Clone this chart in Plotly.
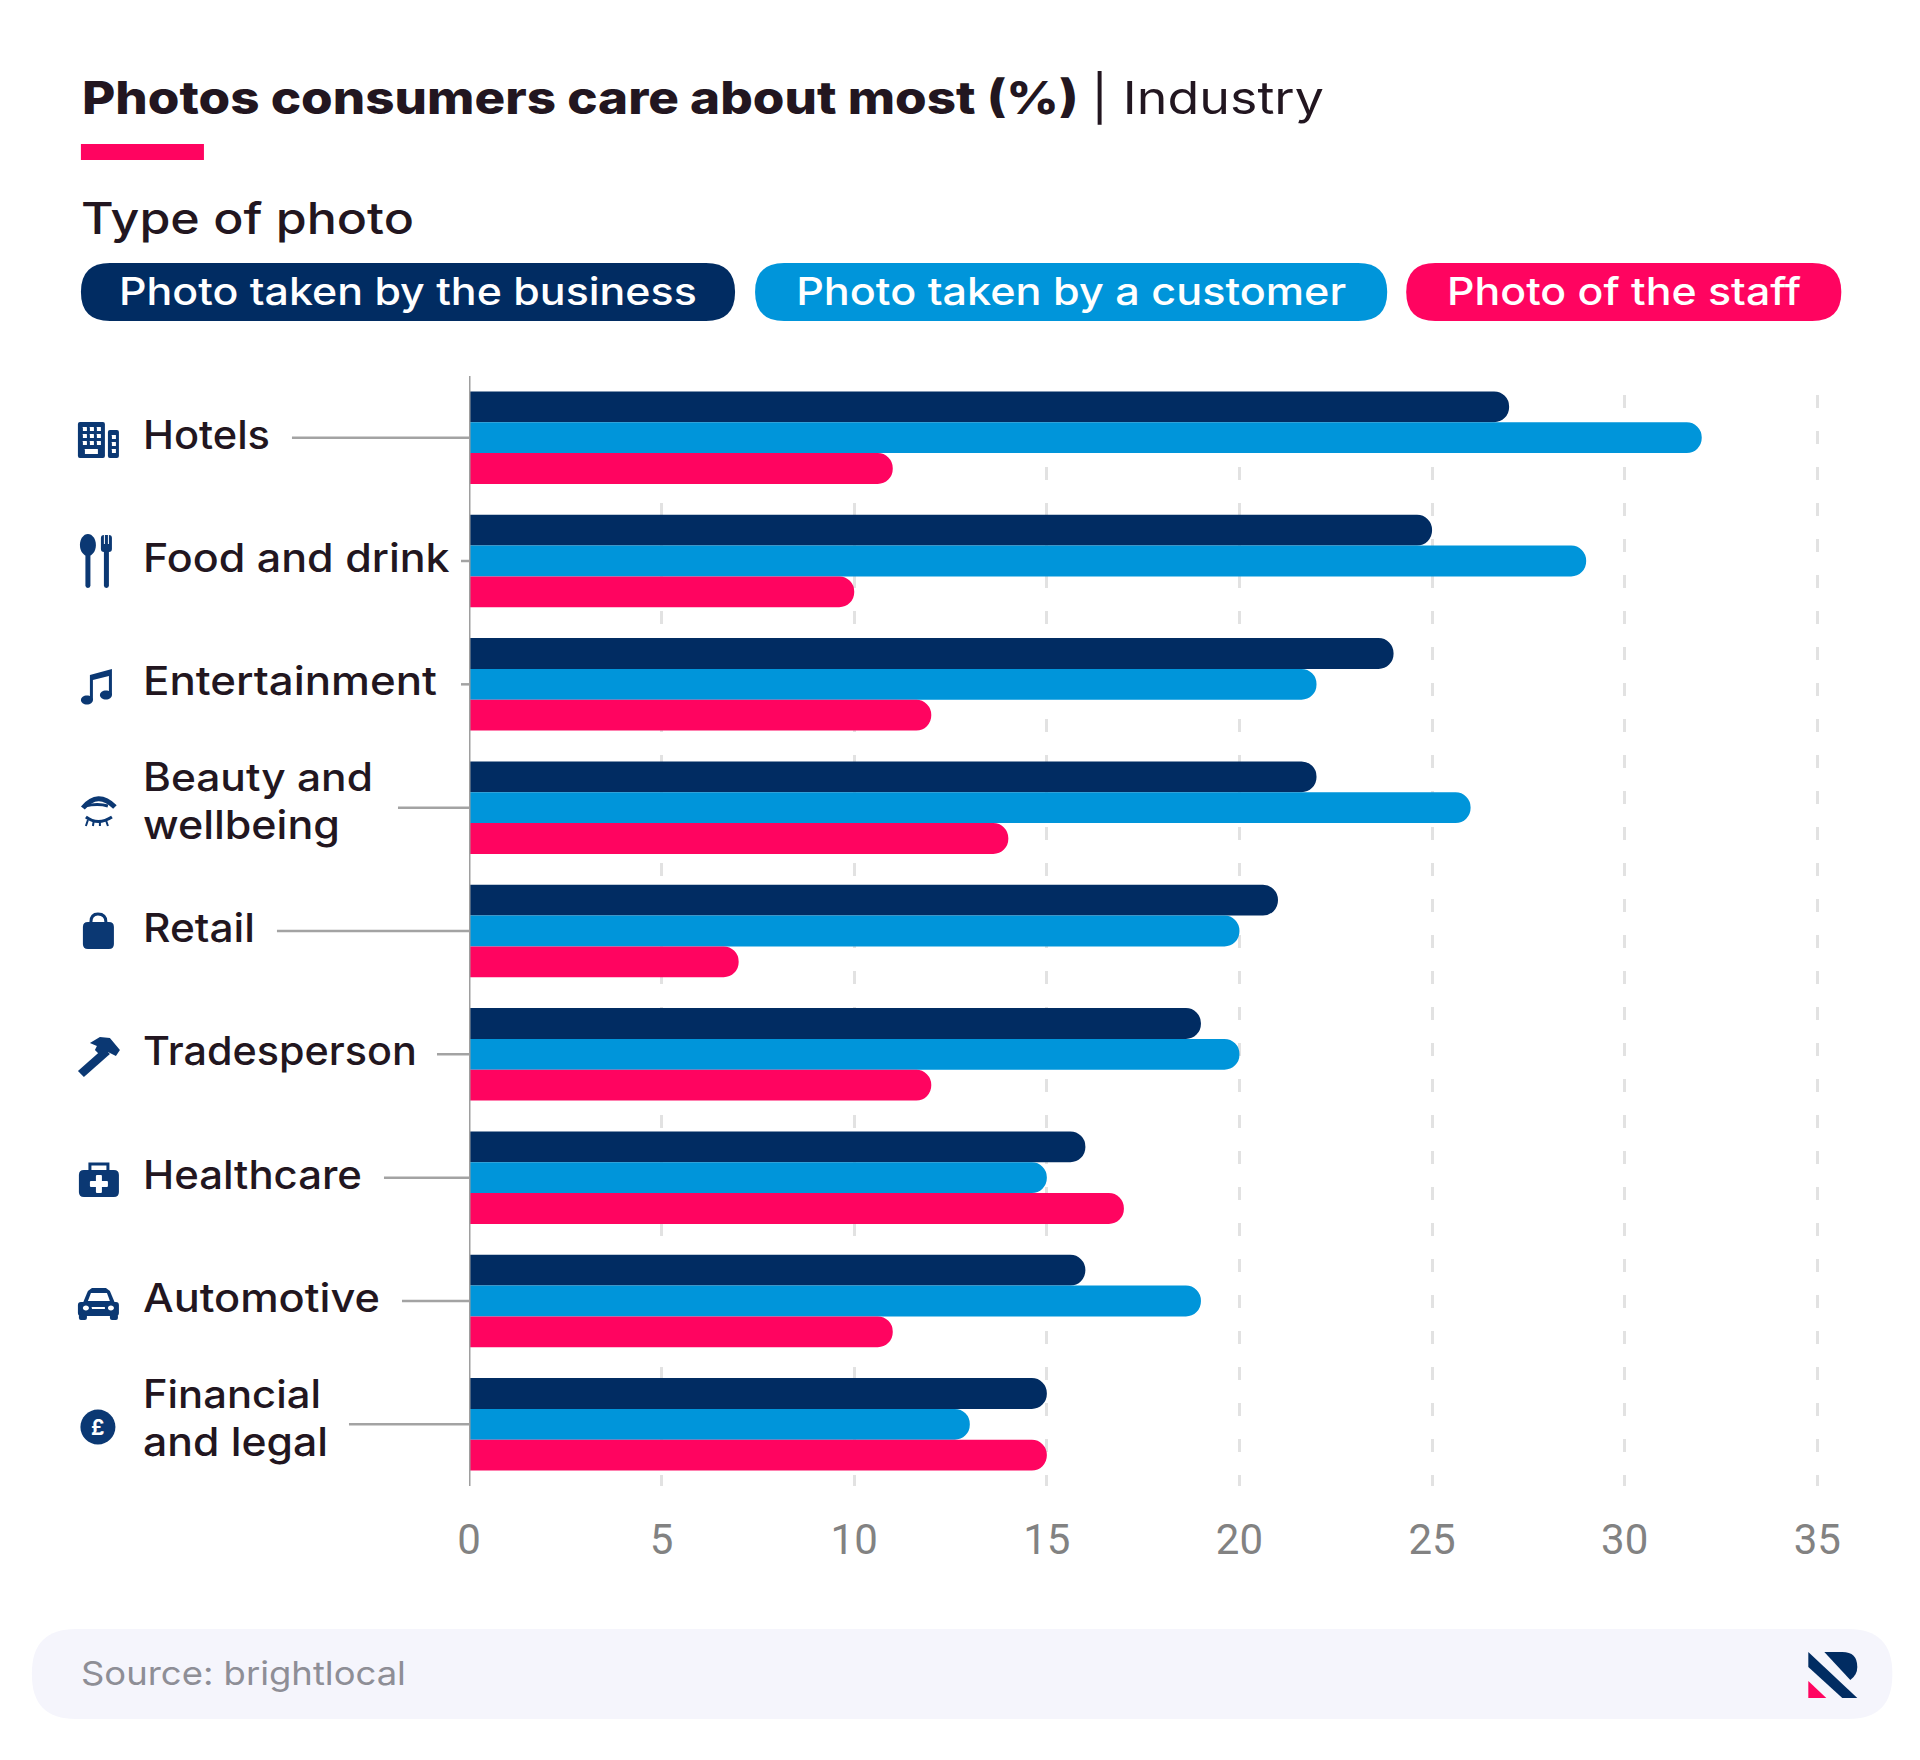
import json
import plotly.graph_objects as go

categories = ["Hotels", "Food and drink", "Entertainment", "Beauty and<br>wellbeing", "Retail",
              "Tradesperson", "Healthcare", "Automotive", "Financial<br>and legal"]
business = [27, 25, 24, 22, 21, 19, 16, 16, 15]
customer = [32, 29, 22, 26, 20, 20, 15, 19, 13]
staff = [11, 10, 12, 14, 7, 12, 17, 11, 15]
series_names = ["Photo taken by the business", "Photo taken by a customer", "Photo of the staff"]
x_ticks = [0, 5, 10, 15, 20, 25, 30, 35]

W, H = 1920, 1760
X_MAX = 35.2
L, R, T, B = 469, 469 + 38.514 * X_MAX, 376, 1486
NAVY, BLUE, PINK = "#012C62", "#0095DA", "#FF0460"
ICON = "#0B3873"
INK = "#221620"
FONT = "Inter"
WHITE = "#FFFFFF"

# Rendered widths (px) the text runs occupy in the reference
text_widths = {
    "Photos consumers care about most (%)": 997, "| Industry": 233, "Type of photo": 333,
    "Photo taken by the business": 578, "Photo taken by a customer": 550, "Photo of the staff": 354,
    "Source: brightlocal": 325, "Hotels": 127, "Food and drink": 307, "Entertainment": 294,
    "Beauty and": 230, "wellbeing": 197, "Retail": 112, "Tradesperson": 274, "Healthcare": 219,
    "Automotive": 237, "Financial": 178, "and legal": 185,
}


def px(x):
    return (x - L) / (R - L)


def py(y):
    return 1 - (y - T) / (B - T)


def pt(x, y):
    return f"{px(x):.5f},{py(y):.5f}"


def poly(pts):
    return "M" + " L".join(pt(*p) for p in pts) + " Z"


def rrect(x0, y0, x1, y1, r):
    return (f"M{pt(x0 + r, y0)} L{pt(x1 - r, y0)} Q{pt(x1, y0)} {pt(x1, y0 + r)} "
            f"L{pt(x1, y1 - r)} Q{pt(x1, y1)} {pt(x1 - r, y1)} L{pt(x0 + r, y1)} "
            f"Q{pt(x0, y1)} {pt(x0, y1 - r)} L{pt(x0, y0 + r)} Q{pt(x0, y0)} {pt(x0 + r, y0)} Z")


def ellipse(cx, cy, rx, ry):
    k = 0.5523
    return (f"M{pt(cx - rx, cy)} C{pt(cx - rx, cy - k * ry)} {pt(cx - k * rx, cy - ry)} {pt(cx, cy - ry)} "
            f"C{pt(cx + k * rx, cy - ry)} {pt(cx + rx, cy - k * ry)} {pt(cx + rx, cy)} "
            f"C{pt(cx + rx, cy + k * ry)} {pt(cx + k * rx, cy + ry)} {pt(cx, cy + ry)} "
            f"C{pt(cx - k * rx, cy + ry)} {pt(cx - rx, cy + k * ry)} {pt(cx - rx, cy)} Z")


shapes = []


def fill(path, color=ICON):
    shapes.append(dict(type="path", xref="paper", yref="paper", path=path,
                       fillcolor=color, line=dict(width=0)))


def stroke(path, color=ICON, width=3):
    shapes.append(dict(type="path", xref="paper", yref="paper", path=path,
                       fillcolor="rgba(0,0,0,0)", line=dict(color=color, width=width)))


annotations = []


def text(x, y, s, size, color=INK, weight=500, anchor="left", font=FONT):
    annotations.append(dict(xref="paper", yref="paper", x=px(x), y=py(y), text=s, showarrow=False,
                            xanchor=anchor, yanchor="middle", align=anchor,
                            font=dict(family=font, size=size, color=color, weight=weight)))


# Header
text(80, 98, "Photos consumers care about most (%)", 45, weight=800)
text(1089, 98, "| Industry", 45, weight=400)
fill(rrect(81, 144, 204, 160, 0.1), PINK)
text(79, 218, "Type of photo", 44)

# Legend pills
pills = [(81, 735, NAVY), (755, 1387, BLUE), (1406, 1841, PINK)]
for name, (x0, x1, col) in zip(series_names, pills):
    fill(rrect(x0, 263, x1, 321, 29), col)
    text((x0 + x1) / 2, 291, name, 38, WHITE, anchor="center")

# Source bar
fill(rrect(32, 1629, 1892, 1719, 44), "#F5F5FC")
text(79, 1672.5, "Source: brightlocal", 33, "#8E8E96", weight=400)

# Logo
fill(poly([(1808, 1652), (1857, 1698), (1842, 1698), (1808, 1667)]), NAVY)
fill(f"M{pt(1824, 1652)} L{pt(1842, 1652)} Q{pt(1857, 1652)} {pt(1857, 1667)} "
     f"Q{pt(1857, 1675)} {pt(1850, 1680)} Z", NAVY)
fill(poly([(1808, 1681), (1826, 1698), (1808, 1698)]), PINK)

# Category labels and leader lines
leader_start = [292, 461, 461, 398, 277, 437, 384, 402, 349]
for cat, start in zip(categories, leader_start):
    shapes.append(dict(type="line", xref="paper", yref="y", x0=px(start), x1=px(L), y0=cat, y1=cat,
                       line=dict(color="#A3A3A3", width=2.5)))
    lines = cat.split("<br>")
    offs = [-3.5] if len(lines) == 1 else [-31, 17]
    for ln, off in zip(lines, offs):
        annotations.append(dict(xref="paper", yref="y", x=px(141), y=cat, text=ln, showarrow=False,
                                xanchor="left", yanchor="middle", align="left", yshift=-off,
                                font=dict(family=FONT, size=39, color=INK, weight=500)))

# Axis line at zero, above the bar bases
shapes.append(dict(type="line", xref="x", yref="paper", x0=0, x1=0, y0=0, y1=1,
                   line=dict(color="#9E9E9E", width=3)))

# Icons
# hotels
fill(rrect(78, 422, 105, 458, 2))
fill(rrect(108, 430, 119, 458, 2))
for cx in (85, 92, 99):
    for cy in (429, 436, 443):
        fill(rrect(cx - 2, cy - 2, cx + 2, cy + 2, 0.2), WHITE)
fill(rrect(85, 449, 98, 454, 0.2), WHITE)
for cy in (437, 444, 451):
    fill(rrect(112, cy - 2, 116, cy + 2, 0.2), WHITE)
# spoon and fork
fill(ellipse(88, 545, 8, 11))
fill(rrect(85.5, 550, 90.5, 588, 2.4))
fill(rrect(101, 535, 112, 552, 3))
fill(rrect(104, 548, 109, 588, 2.4))
for cx in (104.5, 108.5):
    fill(rrect(cx - 0.5, 535, cx + 0.5, 544, 0.1), WHITE)
# music
fill(ellipse(87, 700, 6, 4.5))
fill(ellipse(106, 695, 6, 4.5))
fill(poly([(90, 700), (93, 700), (93, 680), (109, 676), (109, 695), (112, 695), (112, 669), (90, 675)]))
# eye
stroke(f"M{pt(83, 808)} Q{pt(98, 790)} {pt(115, 807)}", ICON, 5)
stroke(f"M{pt(85, 806)} Q{pt(98, 803)} {pt(108, 806)}", ICON, 3)
stroke(f"M{pt(86, 817)} Q{pt(98, 826)} {pt(112, 817)}", ICON, 3)
for a, b in ((88, 86), (94, 93), (100, 100), (106, 108)):
    stroke(f"M{pt(a, 820)} L{pt(b, 826)}", ICON, 2)
# bag
fill(rrect(83, 922, 114, 949, 5))
stroke(f"M{pt(91, 922)} Q{pt(91, 914)} {pt(98, 914)} Q{pt(106, 914)} {pt(106, 922)}", ICON, 3)
# hammer
fill(poly([(78, 1071), (104, 1048), (110, 1054), (84, 1077)]))
fill(poly([(90, 1043), (100, 1037), (110, 1038), (120, 1050), (116, 1056), (108, 1052), (103, 1058), (95, 1050), (97, 1046)]))
# medkit
fill(rrect(79, 1170, 119, 1197, 5))
stroke(f"M{pt(90, 1170)} L{pt(90, 1164)} L{pt(108, 1164)} L{pt(108, 1170)}", ICON, 3)
fill(rrect(96, 1175, 102, 1193, 1), WHITE)
fill(rrect(90, 1181, 108, 1187, 1), WHITE)
# car
fill(rrect(78, 1302, 119, 1316, 3))
fill(poly([(83, 1303), (88, 1291), (92, 1288), (106, 1288), (110, 1291), (115, 1303)]))
fill(poly([(88, 1301), (91, 1293), (107, 1293), (110, 1301)]), WHITE)
fill(rrect(79, 1314, 87, 1320, 2))
fill(rrect(110, 1314, 118, 1320, 2))
fill(ellipse(86, 1308, 3, 2.5), WHITE)
fill(ellipse(111, 1308, 3, 2.5), WHITE)
fill(rrect(92, 1307, 105, 1309, 0.2), WHITE)
# pound
fill(ellipse(98, 1427, 17.5, 17.5))
text(98, 1427, "<b>£</b>", 21, "#FFFFFF", anchor="center")

fig = go.Figure()
for name, vals, col in zip(series_names, (business, customer, staff), (NAVY, BLUE, PINK)):
    fig.add_trace(go.Bar(name=name, y=categories, x=vals, orientation="h",
                         marker=dict(color=col, cornerradius=15, line=dict(width=0))))

fig.update_layout(
    width=W, height=H, margin=dict(l=L, r=W - R, t=T, b=H - B, pad=0),
    plot_bgcolor="white", paper_bgcolor="white",
    barmode="group", bargap=0.25, bargroupgap=0, showlegend=False,
    shapes=shapes, annotations=annotations,
    xaxis=dict(range=[0, X_MAX], tickvals=x_ticks, showgrid=True, gridcolor="#E2E2E2", gridwidth=3,
               griddash="13px,23px", zeroline=False, showline=False, ticks="outside", ticklen=0,
               ticklabelstandoff=17,
               tickfont=dict(family="Roboto", size=42, color="#828282", weight=400)),
    yaxis=dict(categoryorder="array", categoryarray=categories, range=[8.5, -0.5],
               showticklabels=False, showgrid=False, zeroline=False, showline=False, ticks=""),
)

post = """
document.body.style.margin = '0';
var widths = %s;
document.querySelectorAll('text.annotation-text').forEach(function (t) {
  var w = widths[t.textContent];
  if (!w) return;
  var s = w / t.getBBox().width;
  var centred = t.getAttribute('text-anchor') === 'middle';
  t.style.transformBox = 'fill-box';
  t.style.transformOrigin = centred ? 'center' : 'left center';
  t.style.transform = 'scaleX(' + s + ')';
});
document.querySelectorAll('path.xgrid').forEach(function (p) {
  p.style.strokeDashoffset = '-19px';
});
""" % json.dumps(text_widths)

fig.write_html("out.html", config={"displayModeBar": False}, post_script=post)
